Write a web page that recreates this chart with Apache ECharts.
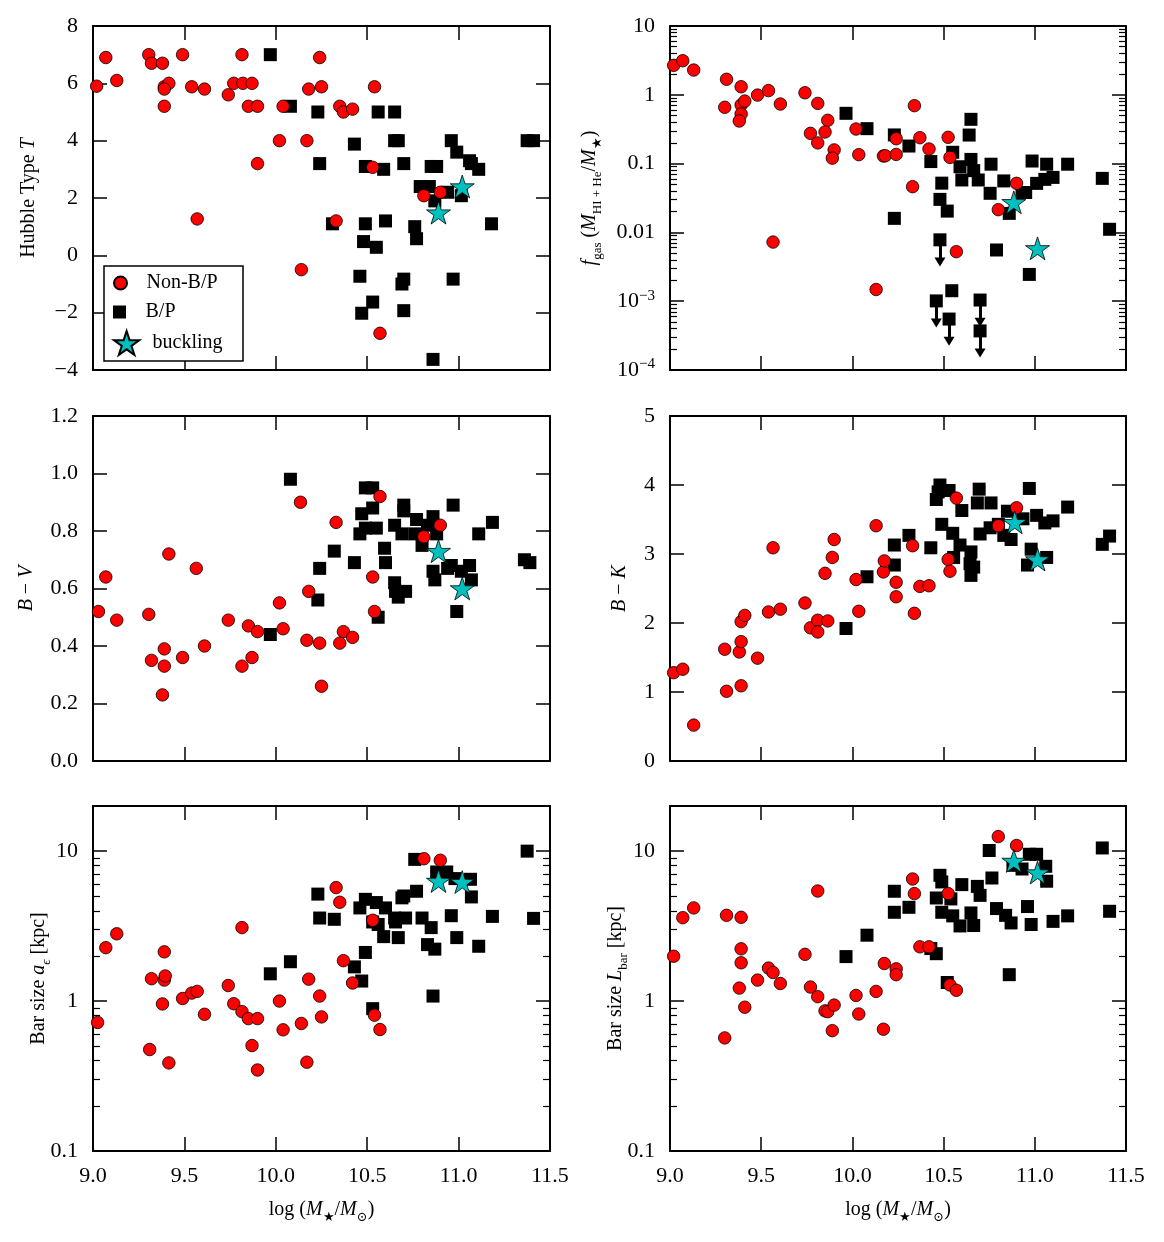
<!DOCTYPE html>
<html>
<head>
<meta charset="utf-8">
<script src="https://cdn.jsdelivr.net/npm/echarts@6/dist/echarts.min.js"></script>
<style>
  html, body { margin: 0; padding: 0; background: #fff; }
  #chart { width: 1164px; height: 1242px; }
</style>
</head>
<body>
<div id="chart"></div>
<script>
// x axis: log stellar mass
var xMin = 9.0, xMax = 11.5, xStep = 0.5;

// Hubble type T
var hubbleNonBP = [[9.02,5.9],[9.07,6.9],[9.13,6.1],[9.305,7.0],[9.32,6.7],[9.38,6.7],[9.49,7.0],[9.39,5.88],[9.415,6.0],[9.39,5.8],[9.39,5.2],[9.54,5.88],[9.61,5.8],[9.815,7.0],[9.74,5.6],[9.77,6.0],[9.82,6.0],[9.87,6.0],[9.85,5.2],[9.90,5.2],[10.04,5.2],[10.24,6.9],[10.18,5.8],[10.25,5.88],[10.35,5.2],[10.37,5.0],[10.42,5.1],[10.54,5.88],[10.02,4.0],[10.17,4.0],[9.90,3.2],[10.53,3.07],[10.81,2.08],[10.90,2.2],[9.57,1.27],[10.33,1.2],[10.14,-0.5],[10.57,-2.72]];
var hubbleBP = [[9.97,7.0],[10.08,5.2],[10.23,5.0],[10.56,5.0],[10.65,5.0],[10.65,4.0],[10.67,4.0],[10.43,3.88],[10.96,4.0],[10.99,3.6],[11.375,4.0],[11.41,4.0],[10.24,3.2],[10.49,3.1],[10.59,3.0],[10.70,3.2],[10.85,3.1],[10.88,3.1],[11.06,3.3],[11.07,3.2],[11.11,3.0],[10.79,2.4],[10.84,2.4],[10.94,2.2],[11.015,2.08],[10.87,1.9],[10.31,1.1],[10.49,1.1],[10.60,1.2],[10.76,1.0],[10.77,0.58],[11.18,1.1],[10.48,0.48],[10.55,0.28],[10.46,-0.73],[10.70,-0.83],[10.69,-1.0],[10.97,-0.83],[10.53,-1.63],[10.47,-2.02],[10.70,-1.93],[10.86,-3.63]];
var hubbleBuckling = [[11.02,2.4],[10.89,1.49]];

// gas fraction
var fgasNonBP = [[9.02,2.68],[9.07,3.13],[9.13,2.29],[9.31,1.68],[9.39,1.31],[9.30,0.658],[9.39,0.711],[9.41,0.81],[9.39,0.526],[9.38,0.416],[9.48,0.99],[9.54,1.15],[9.605,0.734],[9.74,1.07],[9.81,0.75],[9.865,0.426],[9.77,0.275],[9.85,0.288],[9.81,0.2],[9.90,0.158],[9.89,0.12],[10.02,0.318],[10.035,0.135],[10.17,0.129],[10.18,0.13],[10.24,0.23],[10.24,0.136],[10.34,0.695],[10.37,0.238],[10.42,0.163],[10.525,0.241],[10.535,0.123],[10.33,0.0462],[10.90,0.0516],[10.80,0.0214],[10.57,0.00525],[9.565,0.00724],[10.13,0.00148]];
var fgasBP = [[9.965,0.538],[10.08,0.322],[10.23,0.261],[10.31,0.18],[10.43,0.107],[10.55,0.146],[10.65,0.44],[10.64,0.26],[10.65,0.115],[10.59,0.09],[10.665,0.079],[10.60,0.0578],[10.69,0.0578],[10.76,0.098],[10.83,0.056],[10.755,0.037],[10.49,0.052],[10.48,0.0302],[10.52,0.0204],[10.23,0.016],[10.985,0.109],[11.065,0.098],[11.18,0.098],[11.01,0.0516],[11.055,0.059],[11.10,0.063],[10.95,0.038],[10.93,0.038],[10.86,0.0189],[11.37,0.061],[11.41,0.0111],[10.79,0.00555],[10.97,0.00245],[10.545,0.00142]];
var fgasLimitBP = [[10.48,0.0078],[10.46,0.00101],[10.53,0.00055],[10.70,0.00104],[10.70,0.00037]];
var fgasBuckling = [[10.885,0.0274],[11.015,0.00586]];

// B - V colour
var bvNonBP = [[9.07,0.64],[9.03,0.52],[9.13,0.49],[9.305,0.51],[9.415,0.72],[9.565,0.67],[9.39,0.39],[9.32,0.35],[9.39,0.33],[9.49,0.36],[9.38,0.23],[9.61,0.40],[9.74,0.49],[9.85,0.47],[9.90,0.45],[9.815,0.33],[9.87,0.36],[10.02,0.55],[10.04,0.46],[10.135,0.90],[10.18,0.59],[10.17,0.42],[10.24,0.41],[10.25,0.26],[10.33,0.83],[10.37,0.45],[10.35,0.41],[10.42,0.43],[10.53,0.64],[10.54,0.52],[10.57,0.92],[10.81,0.78],[10.90,0.82]];
var bvBP = [[10.08,0.98],[9.97,0.44],[10.23,0.56],[10.24,0.67],[10.32,0.73],[10.43,0.69],[10.49,0.95],[10.53,0.95],[10.53,0.88],[10.47,0.86],[10.49,0.81],[10.55,0.81],[10.46,0.79],[10.595,0.74],[10.60,0.69],[10.56,0.50],[10.65,0.82],[10.70,0.89],[10.70,0.87],[10.69,0.79],[10.77,0.84],[10.76,0.79],[10.83,0.82],[10.86,0.85],[10.88,0.79],[10.80,0.75],[10.65,0.62],[10.655,0.59],[10.71,0.59],[10.67,0.57],[10.86,0.66],[10.87,0.63],[10.94,0.67],[10.96,0.68],[11.06,0.68],[11.015,0.66],[11.07,0.63],[10.97,0.89],[10.99,0.52],[11.11,0.79],[11.185,0.83],[11.36,0.70],[11.39,0.69]];
var bvBuckling = [[10.89,0.73],[11.02,0.60]];

// B - K colour
var bkNonBP = [[9.02,1.28],[9.07,1.33],[9.13,0.52],[9.30,1.62],[9.31,1.01],[9.39,1.09],[9.38,1.58],[9.39,1.73],[9.39,2.02],[9.41,2.11],[9.48,1.49],[9.54,2.16],[9.605,2.2],[9.565,3.09],[9.74,2.29],[9.77,1.93],[9.81,2.04],[9.81,1.87],[9.865,2.03],[9.85,2.72],[9.90,3.21],[9.89,2.95],[10.02,2.63],[10.035,2.17],[10.13,3.41],[10.17,2.74],[10.175,2.9],[10.24,2.59],[10.24,2.38],[10.33,3.12],[10.34,2.14],[10.37,2.53],[10.42,2.54],[10.525,2.92],[10.535,2.75],[10.57,3.81],[10.90,3.67],[10.80,3.41]];
var bkBP = [[9.965,1.92],[10.08,2.67],[10.23,3.13],[10.23,2.84],[10.31,3.27],[10.43,3.09],[10.48,4.0],[10.47,3.9],[10.53,3.92],[10.46,3.79],[10.49,3.43],[10.55,3.3],[10.555,2.95],[10.59,3.13],[10.60,3.63],[10.65,3.03],[10.645,2.86],[10.65,2.69],[10.665,2.81],[10.695,3.94],[10.685,3.74],[10.70,3.29],[10.76,3.74],[10.755,3.38],[10.80,3.43],[10.83,3.27],[10.87,3.21],[10.85,3.62],[10.935,3.51],[10.97,3.95],[11.01,3.56],[11.055,3.45],[11.10,3.48],[11.18,3.68],[10.98,3.07],[10.96,2.84],[11.065,2.95],[11.37,3.14],[11.41,3.26]];
var bkBuckling = [[10.89,3.46],[11.015,2.92]];

// bar size a_eps
var aepsNonBP = [[9.025,0.72],[9.07,2.27],[9.13,2.81],[9.31,0.475],[9.32,1.41],[9.39,2.13],[9.39,1.38],[9.395,1.47],[9.38,0.957],[9.415,0.387],[9.49,1.04],[9.54,1.13],[9.57,1.16],[9.61,0.816],[9.74,1.27],[9.815,3.09],[9.77,0.96],[9.815,0.85],[9.85,0.764],[9.90,0.764],[9.87,0.505],[9.90,0.347],[10.02,1.0],[10.04,0.643],[10.14,0.709],[10.17,0.391],[10.18,1.4],[10.24,1.08],[10.25,0.784],[10.33,5.71],[10.35,4.56],[10.37,1.86],[10.42,1.32],[10.53,3.46],[10.54,0.805],[10.57,0.646],[10.81,8.9],[10.90,8.69]];
var aepsBP = [[9.97,1.52],[10.08,1.83],[10.23,5.17],[10.24,3.58],[10.32,3.51],[10.43,1.69],[10.47,1.36],[10.49,2.11],[10.53,0.89],[10.49,4.77],[10.46,4.18],[10.55,4.54],[10.60,4.18],[10.56,3.24],[10.53,3.37],[10.59,2.69],[10.65,3.58],[10.655,3.37],[10.71,3.58],[10.67,2.65],[10.69,4.88],[10.70,5.02],[10.77,5.4],[10.76,8.81],[10.80,3.58],[10.85,3.09],[10.83,2.38],[10.87,2.22],[10.86,1.08],[10.88,7.26],[10.935,7.26],[10.98,6.56],[11.065,6.49],[11.07,4.95],[10.96,3.71],[10.99,2.65],[11.11,2.32],[11.185,3.67],[11.375,10.0],[11.41,3.56]];
var aepsBuckling = [[10.89,6.32],[11.02,6.22]];

// bar size L_bar
var lbarNonBP = [[9.02,1.99],[9.07,3.6],[9.13,4.18],[9.30,0.568],[9.31,3.73],[9.39,3.62],[9.39,2.23],[9.39,1.8],[9.38,1.22],[9.41,0.91],[9.48,1.38],[9.54,1.66],[9.565,1.55],[9.605,1.31],[9.74,2.05],[9.81,5.42],[9.77,1.24],[9.81,1.07],[9.85,0.86],[9.865,0.85],[9.90,0.94],[9.89,0.635],[10.02,1.09],[10.035,0.82],[10.13,1.16],[10.17,0.649],[10.175,1.78],[10.24,1.64],[10.24,1.5],[10.33,6.52],[10.34,5.21],[10.37,2.3],[10.42,2.3],[10.525,5.21],[10.535,1.28],[10.57,1.18],[10.80,12.5],[10.90,10.9]];
var lbarBP = [[9.965,1.98],[10.08,2.75],[10.23,5.4],[10.23,3.91],[10.31,4.22],[10.46,2.07],[10.43,2.24],[10.48,6.9],[10.49,6.23],[10.46,4.87],[10.49,3.91],[10.54,4.8],[10.55,3.7],[10.52,1.33],[10.60,5.98],[10.65,3.87],[10.59,3.17],[10.665,3.19],[10.685,5.82],[10.70,5.07],[10.75,10.1],[10.765,6.62],[10.79,4.14],[10.84,3.73],[10.87,3.32],[10.86,1.5],[10.88,8.04],[10.93,7.6],[10.97,9.53],[11.01,9.53],[11.06,7.92],[11.065,6.3],[10.96,4.27],[10.98,3.24],[11.10,3.4],[11.18,3.7],[11.37,10.5],[11.41,3.97]];
var lbarBuckling = [[10.885,8.6],[11.015,7.2]];

var serif = '"Liberation Serif", "DejaVu Serif", serif';
var black = '#000';
var starPath = 'path://M50,0 L61.2,34.5 L97.6,34.5 L68.2,55.9 L79.4,90.5 L50,69.1 L20.6,90.5 L31.8,55.9 L2.4,34.5 L38.8,34.5 Z';
var squarePath = 'path://M0,0 L10,0 L10,10 L0,10 Z';

var rich = {
  n: { fontFamily: serif, fontSize: 20, lineHeight: 28, color: black },
  i: { fontFamily: serif, fontSize: 20, lineHeight: 28, fontStyle: 'italic', color: black },
  s: { fontFamily: serif, fontSize: 13, verticalAlign: 'bottom', color: black },
  si: { fontFamily: serif, fontSize: 13, verticalAlign: 'bottom', fontStyle: 'italic', color: black },
  sup: { fontFamily: serif, fontSize: 14, verticalAlign: 'top', color: black }
};

var grids = [
  { left: 93, top: 26, width: 457, height: 344 },
  { left: 670, top: 26, width: 456, height: 344 },
  { left: 93, top: 416, width: 457, height: 345 },
  { left: 670, top: 416, width: 456, height: 345 },
  { left: 93, top: 806, width: 457, height: 345 },
  { left: 670, top: 806, width: 456, height: 345 }
];

function logMinors(lo, hi) {
  var out = [];
  for (var e = Math.floor(Math.log10(lo)); e < Math.ceil(Math.log10(hi)); e++) {
    for (var k = 2; k <= 9; k++) {
      var v = k * Math.pow(10, e);
      if (v > lo && v < hi) out.push(Math.log10(v));
    }
  }
  return out;
}

function fmtLogTick(v) {
  var e = Math.log10(v);
  if (Math.abs(e - Math.round(e)) > 1e-6) return '';
  return String(+v.toPrecision(6));
}
function fmtFgasTick(v) {
  var e = Math.log10(v);
  if (Math.abs(e - Math.round(e)) > 1e-6) return '';
  e = Math.round(e);
  if (e >= -2) return String(+Math.pow(10, e).toPrecision(6));
  return '10{sup|\u2212' + (-e) + '}';
}

var panels = [
  { y: { type: 'value', min: -4, max: 8, interval: 2, formatter: function (v) { return String(v).replace('-', '\u2212'); } },
    name: '{n|Hubble Type }{i|T}', nameGap: 50,
    nonBP: hubbleNonBP, bp: hubbleBP, buck: hubbleBuckling },
  { y: { type: 'log', logBase: 10, min: 1e-4, max: 10, formatter: fmtFgasTick },
    name: '{i|f}{s|gas}{n| (}{i|M}{s|HI + He}{n|/}{i|M}{s|\u2605}{n|)}', nameGap: 66,
    nonBP: fgasNonBP, bp: fgasBP, limits: fgasLimitBP, buck: fgasBuckling },
  { y: { type: 'value', min: 0, max: 1.2, interval: 0.2, formatter: function (v) { return v.toFixed(1); } },
    name: '{i|B}{n| \u2212 }{i|V}', nameGap: 52,
    nonBP: bvNonBP, bp: bvBP, buck: bvBuckling },
  { y: { type: 'value', min: 0, max: 5, interval: 1, formatter: function (v) { return String(v); } },
    name: '{i|B}{n| \u2212 }{i|K}', nameGap: 36,
    nonBP: bkNonBP, bp: bkBP, buck: bkBuckling },
  { y: { type: 'log', logBase: 10, min: 0.1, max: 20, formatter: fmtLogTick },
    name: '{n|Bar size }{i|a}{si|\u03f5}{n| [kpc]}', nameGap: 40,
    nonBP: aepsNonBP, bp: aepsBP, buck: aepsBuckling },
  { y: { type: 'log', logBase: 10, min: 0.1, max: 20, formatter: fmtLogTick },
    name: '{n|Bar size }{i|L}{s|bar}{n| [kpc]}', nameGap: 40,
    nonBP: lbarNonBP, bp: lbarBP, buck: lbarBuckling }
];

var xName = '{n|log}{n| (}{i|M}{s|\u2605}{n|/}{i|M}{s|\u2299}{n|)}';

var xAxes = [], yAxes = [], series = [];

panels.forEach(function (p, gi) {
  var bottomRow = gi >= 4;
  ['bottom', 'top'].forEach(function (pos) {
    var main = pos === 'bottom';
    xAxes.push({
      gridIndex: gi, type: 'value', position: pos, min: xMin, max: xMax, interval: xStep,
      axisLine: { show: true, onZero: false, lineStyle: { color: black, width: 2 } },
      axisTick: { show: true, inside: true, length: 14, lineStyle: { color: black, width: 1.5 } },
      axisLabel: { show: main && bottomRow, margin: 14, color: black, fontFamily: serif, fontSize: 22,
        formatter: function (v) { return v.toFixed(1); } },
      splitLine: { show: false },
      name: main && bottomRow ? xName : '', nameLocation: 'middle', nameGap: 45,
      nameMoveOverlap: false,
      nameTextStyle: { rich: rich }
    });
  });

  var mainIndex = yAxes.length;
  ['left', 'right'].forEach(function (pos) {
    var main = pos === 'left';
    var ax = {
      gridIndex: gi, type: p.y.type, position: pos, min: p.y.min, max: p.y.max,
      axisLine: { show: true, onZero: false, lineStyle: { color: black, width: 2 } },
      axisTick: { show: true, inside: true, length: 14, lineStyle: { color: black, width: 1.5 } },
      axisLabel: { show: main, margin: 15, color: black, fontFamily: serif, fontSize: 22, lineHeight: 26,
        formatter: p.y.formatter, rich: { sup: { fontFamily: serif, fontSize: 15, verticalAlign: 'top', color: black } } },
      splitLine: { show: false },
      name: main ? p.name : '', nameLocation: 'middle', nameRotate: 90, nameGap: p.nameGap,
      nameMoveOverlap: false,
      nameTextStyle: { rich: rich }
    };
    if (p.y.interval) ax.interval = p.y.interval;
    if (p.y.logBase) ax.logBase = p.y.logBase;
    yAxes.push(ax);
  });

  if (p.y.type === 'log') {
    var lo = Math.log10(p.y.min), hi = Math.log10(p.y.max);
    var minors = logMinors(p.y.min, p.y.max);
    ['left', 'right'].forEach(function (pos) {
      yAxes.push({
        gridIndex: gi, type: 'value', position: pos, min: lo, max: hi,
        axisLine: { show: false },
        axisTick: { show: true, inside: true, length: 7, customValues: minors, lineStyle: { color: black, width: 1.2 } },
        axisLabel: { show: false },
        splitLine: { show: false }
      });
    });
  }

  var base = { type: 'scatter', xAxisIndex: 2 * gi, yAxisIndex: mainIndex };
  series.push(Object.assign({}, base, {
    name: 'B/P', data: p.bp, symbol: 'rect', symbolSize: 13,
    itemStyle: { color: black, opacity: 1 }
  }));
  if (p.limits) {
    series.push(Object.assign({}, base, {
      name: 'B/P', data: p.limits, symbol: 'rect', symbolSize: 13,
      itemStyle: { color: black, opacity: 1 },
      markLine: {
        silent: true, animation: false, symbol: ['none', 'triangle'], symbolSize: [11, 9],
        symbolRotate: 180,
        label: { show: false },
        lineStyle: { color: black, width: 3, type: 'solid', opacity: 1 },
        emphasis: { disabled: true },
        data: p.limits.map(function (d) { return [{ coord: [d[0], d[1]] }, { coord: [d[0], d[1] / 2.1] }]; })
      }
    }));
  }
  series.push(Object.assign({}, base, {
    name: 'Non-B/P', data: p.nonBP, symbol: 'circle', symbolSize: 12.5,
    itemStyle: { color: '#ff0000', borderColor: black, borderWidth: 0.8, opacity: 1 }
  }));
  series.push(Object.assign({}, base, {
    name: 'buckling', data: p.buck, symbol: starPath, symbolSize: 24, symbolKeepAspect: true,
    itemStyle: { color: '#00bfbf', borderColor: black, borderWidth: 0.8, opacity: 1 }
  }));
});

var legendText = { color: black, fontFamily: serif, fontSize: 20, lineHeight: 24 };
var legendRows = [
  { name: 'Non-B/P', icon: 'circle', top: 271, h: 13 },
  { name: 'B/P', icon: squarePath, top: 300, h: 13 },
  { name: 'buckling', icon: starPath, top: 330, h: 24 }
];

var option = {
  animation: false,
  backgroundColor: '#fff',
  grid: grids,
  xAxis: xAxes,
  yAxis: yAxes,
  series: series,
  legend: legendRows.map(function (r) {
    return { data: [{ name: r.name, icon: r.icon }], orient: 'vertical', left: 113, top: r.top, padding: 0,
      itemWidth: 42, itemHeight: r.h, symbolKeepAspect: true, textStyle: legendText, selectedMode: false };
  }),
  graphic: [{
    type: 'rect', z: 3, silent: true,
    shape: { x: 104, y: 266, width: 139, height: 95 },
    style: { fill: '#fff', stroke: black, lineWidth: 1.5 }
  }]
};

var chart = echarts.init(document.getElementById('chart'), null, { renderer: 'canvas' });
chart.setOption(option);
</script>
</body>
</html>
